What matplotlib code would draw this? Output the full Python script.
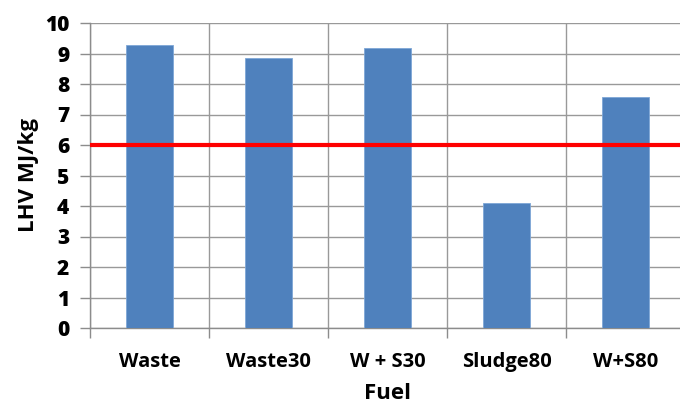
import numpy as np
import matplotlib
matplotlib.use('Agg')
import matplotlib.pyplot as plt

fuels = ['Waste', 'Waste30', 'W + S30', 'Sludge80', 'W+S80']
lhv = [9.27, 8.85, 9.17, 4.1, 7.58]
limit = 6.0
yticks = list(range(0, 11))

plt.rcParams['font.family'] = ['Open Sans', 'DejaVu Sans']
plt.rcParams['font.weight'] = 'bold'

fig = plt.figure(figsize=(6.8, 4.04), dpi=100)
# right edge of the plot runs just past the canvas
ax = fig.add_axes([90/680, (404-328)/404, 595/680, (328-23)/404])

x = np.arange(len(fuels))
ax.bar(x, lhv, width=0.4, color='#4F81BD', edgecolor='#7EA6D6', linewidth=0.6, zorder=3)
ax.axhline(limit, color='#FF0000', linewidth=3, zorder=4)

ax.set_xlim(-0.5, len(fuels) - 0.5)
ax.set_ylim(0, 10)
ax.set_yticks(yticks)
ax.set_yticklabels([str(v) for v in yticks], fontsize=15, fontweight='heavy')

# vertical grid sits between categories, ticks hang below the axis
ax.set_xticks(np.arange(-0.5, len(fuels)), minor=False)
ax.set_xticklabels([''] * (len(fuels) + 1))
ax.set_xticks(x, minor=True)
ax.set_xticklabels(fuels, minor=True, fontsize=14.5, fontweight='bold')
ax.tick_params(axis='x', which='minor', length=0, pad=17)
ax.tick_params(axis='x', which='major', length=7, width=1, color='#8C8C8C', direction='out')
ax.tick_params(axis='y', length=7, width=1, color='#8C8C8C', pad=8)

ax.grid(True, which='major', color='#999999', linewidth=1.0, zorder=0)
for side in ['top', 'right']:
    ax.spines[side].set_visible(False)
for side in ['left', 'bottom']:
    ax.spines[side].set_color('#8C8C8C')
    ax.spines[side].set_linewidth(1.0)

ax.set_xlabel('Fuel', fontsize=16, fontweight='bold', labelpad=8)
ax.set_ylabel('LHV MJ/kg', fontsize=16, fontweight='bold', labelpad=4)

fig.savefig('out.png', dpi=100)
